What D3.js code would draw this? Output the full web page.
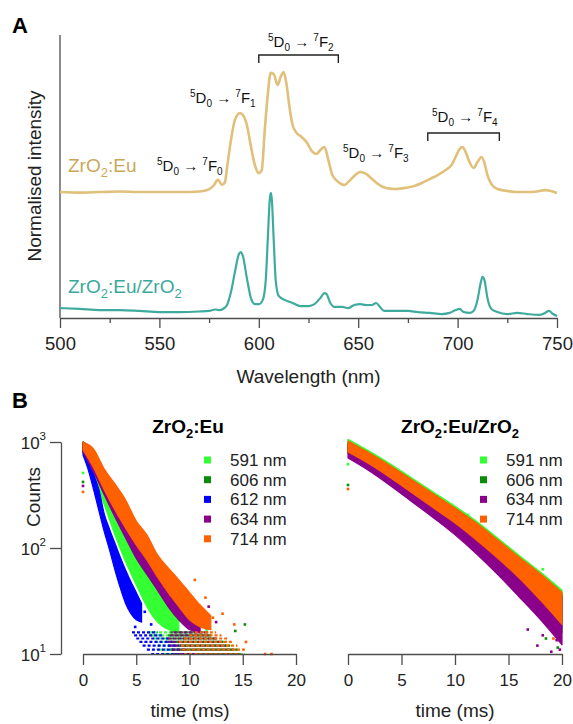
<!DOCTYPE html>
<html>
<head>
<meta charset="utf-8">
<script src="https://cdn.jsdelivr.net/npm/d3@7"></script>
<style>
body {margin:0; background:#fff;}
svg {font-family:"Liberation Sans", Arial, sans-serif;}
</style>
</head>
<body>
<div id="chart"></div>
<script>
// ---- panel A : emission spectra (offset, normalised)
var wlEu = [500,510,520,530,540,550,560,570,574,577,579.5,581.5,583,584,586,588,590.5,592,594,596,598,600,601.5,603,604.5,606,607.5,609.5,611,612.5,614,615.5,617,619,621,624,627,629,631,633,635,637,640,643,645,648,651,654,657,660,664,668,673,678,682,686,690,694,697,699,701,702.5,704,706,708,710,712,713.5,715,717,720,725,730,735,740,744,747,750];
var intEu = [44.5,44.3,44.5,44.7,44.5,44.5,44.5,44.7,45.2,46.6,48.8,47.0,48.0,53.0,62.9,70.0,72.4,71.7,68.2,60.8,54.1,51.2,52.3,66.4,78.8,86.6,86.2,82.3,85.2,86.9,82.3,74.2,68.2,65.4,64.3,62.2,58.7,58.0,59.4,60.4,55.8,50.5,48.1,47.0,48.1,50.2,51.6,50.9,49.1,47.3,45.9,45.6,45.9,46.6,47.7,49.1,50.5,52.3,54.1,56.9,59.7,60.4,58.7,55.1,53.0,55.1,56.9,54.8,50.5,47.3,45.6,44.9,44.5,44.5,44.7,45.2,44.9,44.2];

var wlCore = [500,510,520,530,540,550,560,570,575,578,580,582,584,586,588,590,591,592,594,596,598,600,602,603.5,604.5,605.5,606,606.5,607.5,608.5,610,613,617,621,625,628,631,633,634,636,638,642,645,648,651,654,657,659,661,663,668,675,680,686,692,696,699,701,703,706,708,710,711.5,712.5,713.5,715,717,720,725,730,735,741,744,746,748,750];
var intCore = [3.5,3.2,2.8,2.8,2.5,2.1,2.1,2.3,2.5,3.0,2.8,3.2,4.6,9.2,16.3,22.6,23.3,21.9,14.1,7.1,4.9,4.9,6.4,13.4,27.6,41.7,44.2,42.4,27.6,13.4,7.8,6.4,5.3,4.2,4.2,4.9,7.1,8.8,8.5,5.3,3.9,3.9,3.5,4.6,4.9,4.6,4.6,5.3,3.9,2.5,2.5,2.5,2.1,1.8,1.4,1.8,2.8,3.2,2.1,1.8,2.5,6.4,12.0,14.5,13.4,7.1,3.2,2.1,1.4,1.8,1.4,1.1,1.8,2.5,1.4,0.7];

var wlTicks = [500,550,600,650,700,750];
var wlMinor = [525,575,625,675,725];
var transitionF = ["0","1","2","3","4"];
var bracketF2 = [600,640];
var bracketF4 = [685,721];

// ---- panel B : decay curves, dense part of each point cloud (upper / lower counts)
var seriesNames = ["591 nm","606 nm","612 nm","634 nm","714 nm"];
var seriesColors = ["#33ff33","#0a8c0a","#0000ff","#8b008b","#ff6000"];
var timeTicks = [0,5,10,15,20];
var countTicks = [10,100,1000];
var tailLevels = [10,11,12,13,14,15,16];

// ZrO2:Eu
var euT591 = [0,1,2,3,4,5,6,7,8,9];
var euHi591 = [1000,648,393,255,165,107,74,52,36,25];
var euLo591 = [805,457,255,133,74,45,28,20,17,16];
var euT606 = [0,1,2,3,4,5,6,7,8,9,10];
var euHi606 = [1000,820,530,380,262,175,122,84,60,43,32];
var euLo606 = [805,530,325,200,128,80,56,40,28,21,17];
var euT612 = [0,0.5,1,1.5,2,2.5,3,3.5,4,4.5,5,5.5];
var euHi612 = [937,721,499,353,209,150,111,82,62,48,38,30];
var euLo612 = [754,544,353,223,142,95,62,42,30,24,21,20];
var euT634 = [0,1,2,3,4,5,6,7,8,9,10,11];
var euHi634 = [1000,805,521,368,255,168,119,80,59,42,32,25];
var euLo634 = [805,521,316,196,124,80,57,40,28,21,17,16];
var euT714 = [0,1,2,3,4,5,6,7,8,9,10,11,12];
var euHi714 = [1000,859,556,402,284,180,133,86,65,50,38,29,23];
var euLo714 = [841,569,353,228,154,107,77,53,38,28,21,18,17];

// quantised tail rows (counts 10..16): first and last time of each row
var euTailStart591 = [7.6,7.2,7.0,6.8,6.6,6.4,6.2];
var euTailEnd591 = [15.2,14.6,14.0,13.5,12.5,12.0,11.0];
var euTailStart606 = [8.4,8.2,8.0,7.8,7.8,8.0,8.2];
var euTailEnd606 = [15.0,14.5,13.8,13.2,12.6,12.2,11.8];
var euTailStart612 = [6.4,6.0,5.6,5.3,5.0,4.8,4.6];
var euTailEnd612 = [10.5,9.6,9.0,8.6,8.0,7.4,7.0];
var euTailStart634 = [8.6,8.4,8.2,8.0,8.0,8.2,8.5];
var euTailEnd634 = [14.5,14.2,13.5,13.0,12.5,12.0,11.5];
var euTailStart714 = [9.5,9.3,9.2,9.0,9.5,10.0,10.5];
var euTailEnd714 = [14.8,15.2,14.5,14.0,13.6,13.0,12.5];

var euOutliers = [
  {s:"591 nm", t:0, c:510}, {s:"591 nm", t:9.8, c:21}, {s:"591 nm", t:11.6, c:17},
  {s:"606 nm", t:0, c:420}, {s:"606 nm", t:15.2, c:19}, {s:"606 nm", t:14.3, c:16.5}, {s:"606 nm", t:11, c:26},
  {s:"612 nm", t:5.8, c:25}, {s:"612 nm", t:6.4, c:19}, {s:"612 nm", t:4.9, c:18},
  {s:"634 nm", t:0, c:385}, {s:"634 nm", t:11.8, c:28}, {s:"634 nm", t:12.5, c:20},
  {s:"714 nm", t:0, c:338}, {s:"714 nm", t:10.5, c:50}, {s:"714 nm", t:11.5, c:34}, {s:"714 nm", t:13.1, c:24},
  {s:"714 nm", t:12.2, c:22}, {s:"714 nm", t:14.2, c:19}, {s:"714 nm", t:15.3, c:13},
  {s:"714 nm", t:17.1, c:10}, {s:"714 nm", t:17.7, c:10}
];

// ZrO2:Eu/ZrO2
var coreT = [0,2,4,6,8,10,12,14,16,18,20];
var coreHi591 = [1060,818,618,455,336,248,179,124,85,59,40];
var coreLo591 = [845,650,480,346,250,180,125,84,55,34,20];
var coreHi606 = [990,780,585,430,315,232,165,112,78,54,37];
var coreLo606 = [780,590,430,310,222,158,108,72,46,28,16];
var coreHi634 = [950,732,552,407,300,221,160,110,76,53,35];
var coreLo634 = [706,533,385,272,192,133,88,56,34.5,21,12.2];
var coreHi714 = [1021,787,594,438,323,238,172,119,82,57,38];
var coreLo714 = [805,620,457,330,238,172,119,80,52,32,19];

var coreOutliers = [
  {s:"591 nm", t:0, c:617}, {s:"591 nm", t:15.0, c:90}, {s:"591 nm", t:18.2, c:63}, {s:"591 nm", t:17.6, c:60},
  {s:"591 nm", t:11.2, c:205}, {s:"591 nm", t:8.6, c:300},
  {s:"606 nm", t:0, c:393}, {s:"606 nm", t:19.6, c:11.5}, {s:"606 nm", t:18.5, c:14},
  {s:"634 nm", t:17.7, c:12}, {s:"634 nm", t:19.8, c:11}, {s:"634 nm", t:19.5, c:13.5},
  {s:"634 nm", t:16.8, c:17}, {s:"634 nm", t:18.2, c:15}, {s:"634 nm", t:19.0, c:10.5},
  {s:"714 nm", t:0, c:360}, {s:"714 nm", t:19.2, c:14}
];

var axisColor = "#4d4d4d";
var colorOf = d3.scaleOrdinal().domain(seriesNames).range(seriesColors);

var svg = d3.select("#chart").append("svg")
    .attr("width", 573).attr("height", 724);

// ======================= panel A
var xA = d3.scaleLinear().domain([500, 750]).range([60, 557]);
var yA = d3.scaleLinear().domain([0, 100]).range([318, 35]);

svg.append("text").attr("x", 12).attr("y", 33)
    .style("font-size", "22px").style("font-weight", "bold").text("A");

// y axis line only (no ticks)
svg.append("line").attr("x1", xA(500)).attr("x2", xA(500))
    .attr("y1", yA(100)).attr("y2", yA(0))
    .style("stroke", axisColor).style("stroke-width", 1.3);

var gxA = svg.append("g").attr("transform", "translate(0," + yA(0) + ")")
    .call(d3.axisBottom(xA).tickValues(wlTicks).tickSize(10).tickSizeOuter(0).tickPadding(9));
svg.append("g").attr("transform", "translate(0," + yA(0) + ")")
    .call(d3.axisBottom(xA).tickValues(wlMinor).tickSize(5).tickSizeOuter(0).tickFormat(""))
    .select(".domain").remove();
svg.selectAll(".tick line, .domain").style("stroke", axisColor).style("stroke-width", 1.3);
gxA.selectAll("text").style("font-size", "18.5px").style("fill", "#222")
    .style("font-family", "Liberation Sans, Arial, sans-serif");

svg.append("text").attr("x", xA(625)).attr("y", 383).attr("text-anchor", "middle")
    .style("font-size", "19px").style("fill", "#222").text("Wavelength (nm)");
svg.append("text").attr("transform", "translate(41,176) rotate(-90)")
    .attr("text-anchor", "middle").style("font-size", "19px").style("fill", "#222")
    .text("Normalised intensity");

var lineA = d3.line().x(function(d) { return xA(d[0]); })
    .y(function(d) { return yA(d[1]); }).curve(d3.curveMonotoneX);

svg.append("path").datum(d3.zip(wlEu, intEu)).attr("d", lineA)
    .style("fill", "none").style("stroke", "#e0c07a").style("stroke-width", 2.6)
    .style("stroke-linejoin", "round");
svg.append("path").datum(d3.zip(wlCore, intCore)).attr("d", lineA)
    .style("fill", "none").style("stroke", "#3fab9e").style("stroke-width", 2.2)
    .style("stroke-linejoin", "round");

// sample labels with subscripts
function formula(sel, parts) {
    parts.forEach(function(p) {
        if (p.sub) sel.append("tspan").attr("dy", p.dy).style("font-size", p.size).text(p.t);
        else sel.append("tspan").attr("dy", p.dy || 0).text(p.t);
    });
}
var lblEu = svg.append("text").attr("x", 68).attr("y", 172)
    .style("font-size", "19px").style("fill", "#c9a85c");
formula(lblEu, [{t:"ZrO"}, {t:"2", sub:true, dy:5, size:"13px"}, {t:":Eu", dy:-5}]);
var lblCore = svg.append("text").attr("x", 68).attr("y", 293)
    .style("font-size", "19px").style("fill", "#3aa99b");
formula(lblCore, [{t:"ZrO"}, {t:"2", sub:true, dy:5, size:"13px"}, {t:":Eu/ZrO", dy:-5},
                  {t:"2", sub:true, dy:5, size:"13px"}]);

// transition labels 5D0 -> 7FJ
function transition(x, y, j) {
    var t = svg.append("text").attr("x", x).attr("y", y)
        .style("font-size", "15px").style("fill", "#111");
    t.append("tspan").attr("dy", -6).style("font-size", "10px").text("5");
    t.append("tspan").attr("dy", 6).text("D");
    t.append("tspan").attr("dy", 4).style("font-size", "10px").text("0");
    t.append("tspan").attr("dy", -4).text(" \u2192 ");
    t.append("tspan").attr("dy", -6).style("font-size", "10px").text("7");
    t.append("tspan").attr("dy", 6).text("F");
    t.append("tspan").attr("dy", 4).style("font-size", "10px").text(transitionF[j]);
}
transition(157, 171, 0);
transition(190, 103, 1);
transition(268, 47, 2);
transition(343, 158, 3);
transition(432, 122, 4);

function bracket(range, y) {
    svg.append("path")
        .attr("d", "M" + xA(range[0]) + "," + (y + 8) + "V" + y + "H" + xA(range[1]) + "V" + (y + 8))
        .style("fill", "none").style("stroke", "#222").style("stroke-width", 1.4);
}
bracket(bracketF2, 55);
bracket(bracketF4, 133);

// ======================= panel B
svg.append("text").attr("x", 12).attr("y", 408)
    .style("font-size", "22px").style("font-weight", "bold").text("B");

var yB = d3.scaleLog().domain([10, 1000]).range([654, 442]);
var xL = d3.scaleLinear().domain([0, 20]).range([83, 296]);
var xR = d3.scaleLinear().domain([0, 20]).range([348, 562]);

function band(g, x, t, hi, lo, name) {
    var area = d3.area().x(function(d) { return x(d[0]); })
        .y0(function(d) { return yB(d[2]); }).y1(function(d) { return yB(d[1]); })
        .curve(d3.curveMonotoneX);
    g.append("path").datum(d3.zip(t, hi, lo)).attr("d", area)
        .style("fill", colorOf(name)).style("stroke", colorOf(name)).style("stroke-width", 1.2)
        .style("stroke-linejoin", "round");
}
function tail(g, x, start, end, name) {
    g.selectAll(null).data(d3.zip(tailLevels, start, end)).enter()
        .append("line")
        .attr("x1", function(d) { return x(d[1]); }).attr("x2", function(d) { return x(d[2]); })
        .attr("y1", function(d) { return yB(d[0]); }).attr("y2", function(d) { return yB(d[0]); })
        .style("stroke", colorOf(name)).style("stroke-width", 2.2)
        .style("stroke-dasharray", "3,2");
}
function outliers(g, x, pts, name) {
    g.selectAll(null).data(pts.filter(function(d) { return d.s === name; })).enter()
        .append("rect")
        .attr("x", function(d) { return x(d.t) - 1.3; }).attr("y", function(d) { return yB(d.c) - 1.3; })
        .attr("width", 2.6).attr("height", 2.6)
        .style("fill", colorOf(name));
}

var gL = svg.append("g");
band(gL, xL, euT591, euHi591, euLo591, "591 nm");
tail(gL, xL, euTailStart591, euTailEnd591, "591 nm");
outliers(gL, xL, euOutliers, "591 nm");
band(gL, xL, euT606, euHi606, euLo606, "606 nm");
tail(gL, xL, euTailStart606, euTailEnd606, "606 nm");
outliers(gL, xL, euOutliers, "606 nm");
band(gL, xL, euT612, euHi612, euLo612, "612 nm");
tail(gL, xL, euTailStart612, euTailEnd612, "612 nm");
outliers(gL, xL, euOutliers, "612 nm");
band(gL, xL, euT634, euHi634, euLo634, "634 nm");
tail(gL, xL, euTailStart634, euTailEnd634, "634 nm");
outliers(gL, xL, euOutliers, "634 nm");
band(gL, xL, euT714, euHi714, euLo714, "714 nm");
tail(gL, xL, euTailStart714, euTailEnd714, "714 nm");
outliers(gL, xL, euOutliers, "714 nm");

var gR = svg.append("g");
band(gR, xR, coreT, coreHi591, coreLo591, "591 nm");
outliers(gR, xR, coreOutliers, "591 nm");
band(gR, xR, coreT, coreHi606, coreLo606, "606 nm");
outliers(gR, xR, coreOutliers, "606 nm");
band(gR, xR, coreT, coreHi634, coreLo634, "634 nm");
outliers(gR, xR, coreOutliers, "634 nm");
band(gR, xR, coreT, coreHi714, coreLo714, "714 nm");
outliers(gR, xR, coreOutliers, "714 nm");

// axes of panel B
function timeAxis(x, cx) {
    var g = svg.append("g").attr("transform", "translate(0,654)")
        .call(d3.axisBottom(x).tickValues(timeTicks).tickSize(11).tickSizeOuter(0).tickPadding(9));
    g.selectAll("line, .domain").style("stroke", axisColor).style("stroke-width", 1.3);
    g.selectAll("text").style("font-size", "17px").style("fill", "#222")
        .style("font-family", "Liberation Sans, Arial, sans-serif");
    svg.append("text").attr("x", cx).attr("y", 717).attr("text-anchor", "middle")
        .style("font-size", "19px").style("fill", "#222").text("time (ms)");
}
timeAxis(xL, 190);
timeAxis(xR, 455);

var gy = svg.append("g").attr("transform", "translate(61,0)")
    .call(d3.axisLeft(yB).tickValues(countTicks).tickSize(11).tickSizeOuter(0).tickFormat(""));
gy.selectAll("line, .domain").style("stroke", axisColor).style("stroke-width", 1.3);
countTicks.forEach(function(c) {
    var t = svg.append("text").attr("x", 46).attr("y", yB(c) + 7).attr("text-anchor", "end")
        .style("font-size", "17px").style("fill", "#222");
    t.append("tspan").text("10");
    t.append("tspan").attr("dy", -9).style("font-size", "11.5px").text(String(Math.round(Math.log10(c))));
});
svg.append("text").attr("transform", "translate(40,497) rotate(-90)")
    .attr("text-anchor", "middle").style("font-size", "19px").style("fill", "#222").text("Counts");

// titles
var tL = svg.append("text").attr("x", 188).attr("y", 433).attr("text-anchor", "middle")
    .style("font-size", "19px").style("font-weight", "bold");
formula(tL, [{t:"ZrO"}, {t:"2", sub:true, dy:5, size:"13px"}, {t:":Eu", dy:-5}]);
var tR = svg.append("text").attr("x", 460).attr("y", 433).attr("text-anchor", "middle")
    .style("font-size", "19px").style("font-weight", "bold");
formula(tR, [{t:"ZrO"}, {t:"2", sub:true, dy:5, size:"13px"}, {t:":Eu/ZrO", dy:-5},
             {t:"2", sub:true, dy:5, size:"13px"}]);

// legends
function legend(x, names) {
    var g = svg.append("g").attr("transform", "translate(" + x + ",460)");
    g.selectAll("rect").data(names).enter().append("rect")
        .attr("x", 0).attr("y", function(d, i) { return i * 19.7 - 3.5; })
        .attr("width", 7).attr("height", 7)
        .style("fill", function(d) { return colorOf(d); });
    g.selectAll("text").data(names).enter().append("text")
        .attr("x", 26).attr("y", function(d, i) { return i * 19.7 + 6; })
        .style("font-size", "17px").style("fill", "#222")
        .text(function(d) { return d; });
}
legend(204, seriesNames);
legend(480, ["591 nm","606 nm","634 nm","714 nm"]);
</script>
</body>
</html>
